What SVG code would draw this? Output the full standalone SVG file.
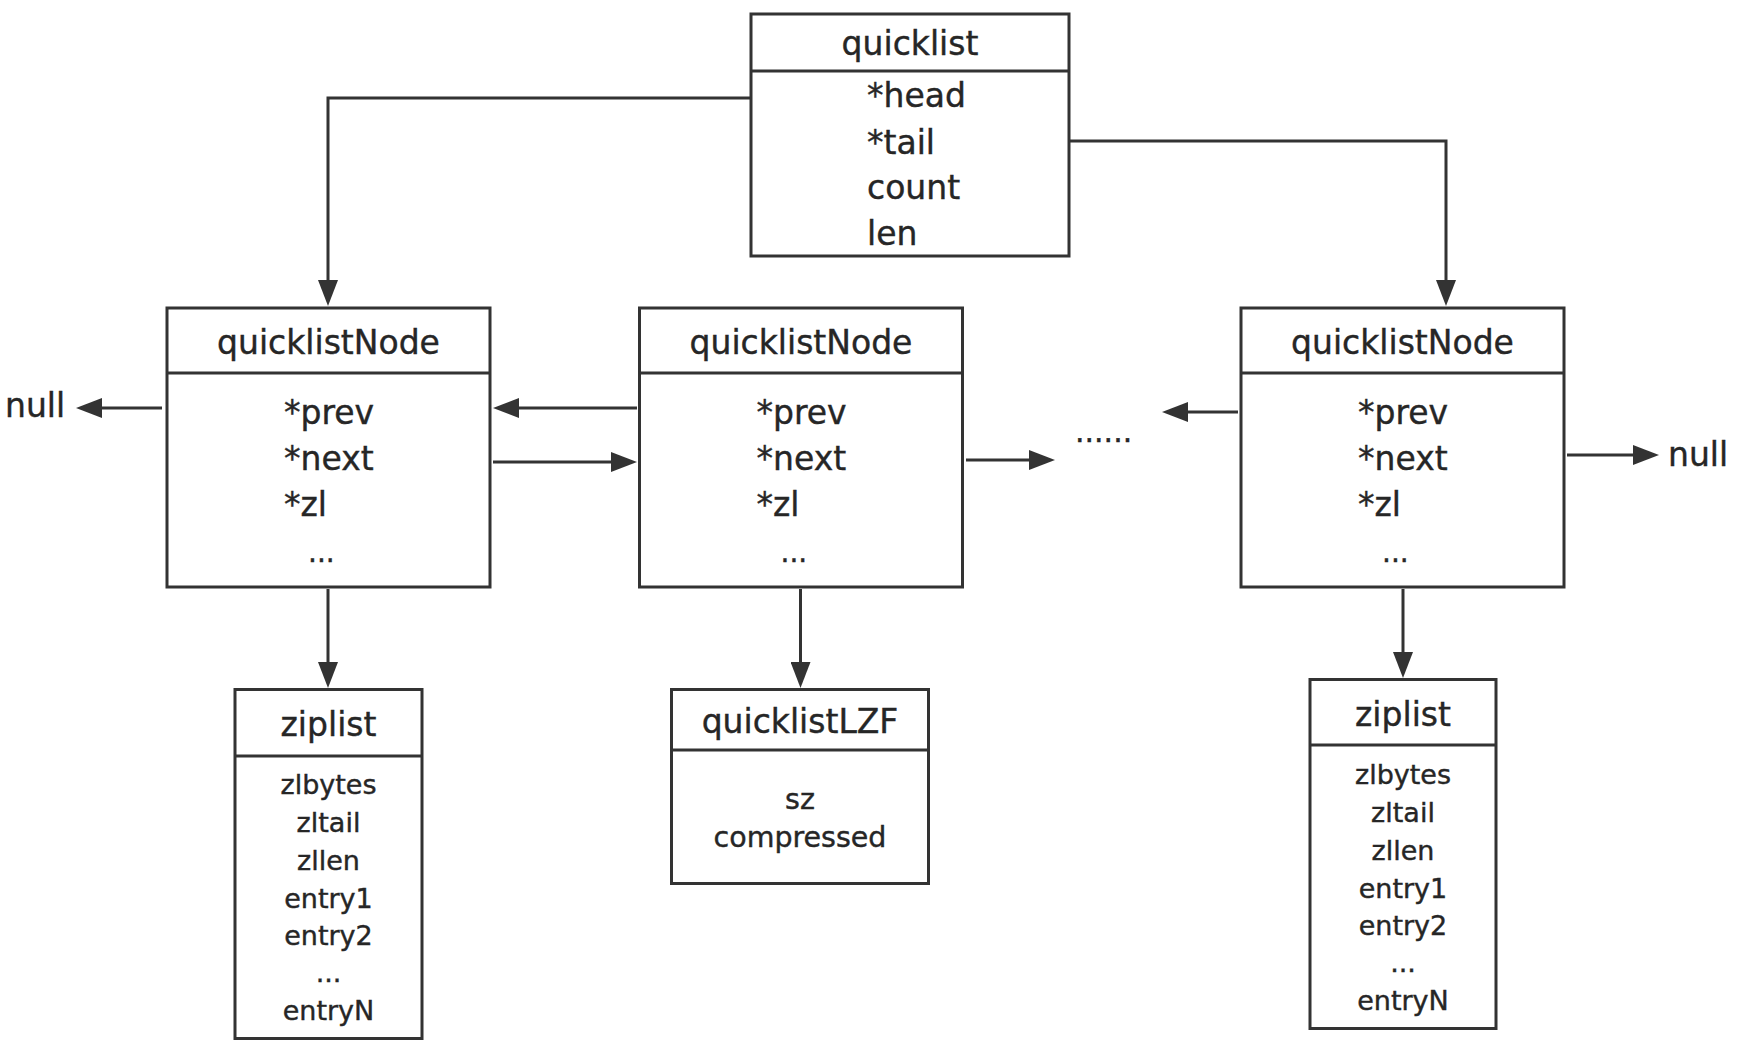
<svg xmlns="http://www.w3.org/2000/svg" width="1738" height="1058" viewBox="0 0 1738 1058">
<defs>
<style>
.box{fill:#fff;stroke:#333;stroke-width:3}
.div{stroke:#333;stroke-width:3}
.t{font-family:"DejaVu Sans","Liberation Sans",sans-serif;fill:#262626;stroke:#262626;stroke-width:0.4}
.h{font-size:33px;text-anchor:middle}
.f{font-size:33px}
.z{font-size:27px;text-anchor:middle}
.d{font-size:28px}
.c{fill:none;stroke:#333;stroke-width:3}
</style>
<marker id="ah" markerUnits="userSpaceOnUse" markerWidth="26" markerHeight="20" refX="20" refY="10" orient="auto">
<path d="M0,0 L26,10 L0,20 z" fill="#333"/>
</marker>
</defs>
<rect width="1738" height="1058" fill="#fff"/>

<g id="connectors">
<path class="c" d="M751,98 H328 V300" marker-end="url(#ah)"/>
<path class="c" d="M1070,141 H1446 V300" marker-end="url(#ah)"/>
<path class="c" d="M162,408 H82" marker-end="url(#ah)"/>
<path class="c" d="M637,408 H499" marker-end="url(#ah)"/>
<path class="c" d="M493,462 H631" marker-end="url(#ah)"/>
<path class="c" d="M966,460 H1049" marker-end="url(#ah)"/>
<path class="c" d="M1238,412 H1168" marker-end="url(#ah)"/>
<path class="c" d="M1567,455 H1653" marker-end="url(#ah)"/>
<path class="c" d="M328,589 V682" marker-end="url(#ah)"/>
<path class="c" d="M800.5,589 V682" marker-end="url(#ah)"/>
<path class="c" d="M1403,589 V672" marker-end="url(#ah)"/>
</g>

<g id="quicklist">
<rect class="box" x="751" y="14" width="318" height="242"/>
<line class="div" x1="751" y1="71" x2="1069" y2="71"/>
<text class="t h" x="910" y="55">quicklist</text>
<text class="t f" x="867" y="107">*head</text>
<text class="t f" x="867" y="154">*tail</text>
<text class="t f" x="867" y="199">count</text>
<text class="t f" x="867" y="245">len</text>
</g>

<g id="node1">
<rect class="box" x="167" y="308" width="323" height="279"/>
<line class="div" x1="167" y1="373" x2="490" y2="373"/>
<text class="t h" x="328.5" y="354">quicklistNode</text>
<text class="t f" x="284" y="424">*prev</text>
<text class="t f" x="284" y="470">*next</text>
<text class="t f" x="284" y="516">*zl</text>
<text class="t d" x="308" y="562">...</text>
</g>

<g id="node2">
<rect class="box" x="639.5" y="308" width="323" height="279"/>
<line class="div" x1="639.5" y1="373" x2="962.5" y2="373"/>
<text class="t h" x="801" y="354">quicklistNode</text>
<text class="t f" x="756.5" y="424">*prev</text>
<text class="t f" x="756.5" y="470">*next</text>
<text class="t f" x="756.5" y="516">*zl</text>
<text class="t d" x="780.5" y="562">...</text>
</g>

<g id="node3">
<rect class="box" x="1241" y="308" width="323" height="279"/>
<line class="div" x1="1241" y1="373" x2="1564" y2="373"/>
<text class="t h" x="1402.5" y="354">quicklistNode</text>
<text class="t f" x="1358" y="424">*prev</text>
<text class="t f" x="1358" y="470">*next</text>
<text class="t f" x="1358" y="516">*zl</text>
<text class="t d" x="1382" y="562">...</text>
</g>

<g id="null-left">
<text class="t f" x="5" y="417">null</text>
</g>
<g id="null-right">
<text class="t f" x="1668" y="466">null</text>
</g>
<g id="ellipsis">
<text class="t" x="1075" y="442" font-size="30">......</text>
</g>

<g id="ziplist1">
<rect class="box" x="235" y="689.5" width="187" height="349"/>
<line class="div" x1="235" y1="756" x2="422" y2="756"/>
<text class="t h" x="328.5" y="736">ziplist</text>
<text class="t z" x="328.5" y="794">zlbytes</text>
<text class="t z" x="328.5" y="832">zltail</text>
<text class="t z" x="328.5" y="870">zllen</text>
<text class="t z" x="328.5" y="907.5">entry1</text>
<text class="t z" x="328.5" y="945">entry2</text>
<text class="t z" x="328.5" y="982">...</text>
<text class="t z" x="328.5" y="1020">entryN</text>
</g>

<g id="quicklistLZF">
<rect class="box" x="671.5" y="689.5" width="257" height="194"/>
<line class="div" x1="671.5" y1="750" x2="928.5" y2="750"/>
<text class="t h" x="800" y="733" font-size="34">quicklistLZF</text>
<text class="t" x="800" y="809" font-size="28.5" text-anchor="middle">sz</text>
<text class="t" x="800" y="847" font-size="28.5" text-anchor="middle">compressed</text>
</g>

<g id="ziplist3">
<rect class="box" x="1310" y="679.5" width="186" height="349"/>
<line class="div" x1="1310" y1="745" x2="1496" y2="745"/>
<text class="t h" x="1403" y="726">ziplist</text>
<text class="t z" x="1403" y="784">zlbytes</text>
<text class="t z" x="1403" y="822">zltail</text>
<text class="t z" x="1403" y="860">zllen</text>
<text class="t z" x="1403" y="897.5">entry1</text>
<text class="t z" x="1403" y="935">entry2</text>
<text class="t z" x="1403" y="972">...</text>
<text class="t z" x="1403" y="1010">entryN</text>
</g>
</svg>
